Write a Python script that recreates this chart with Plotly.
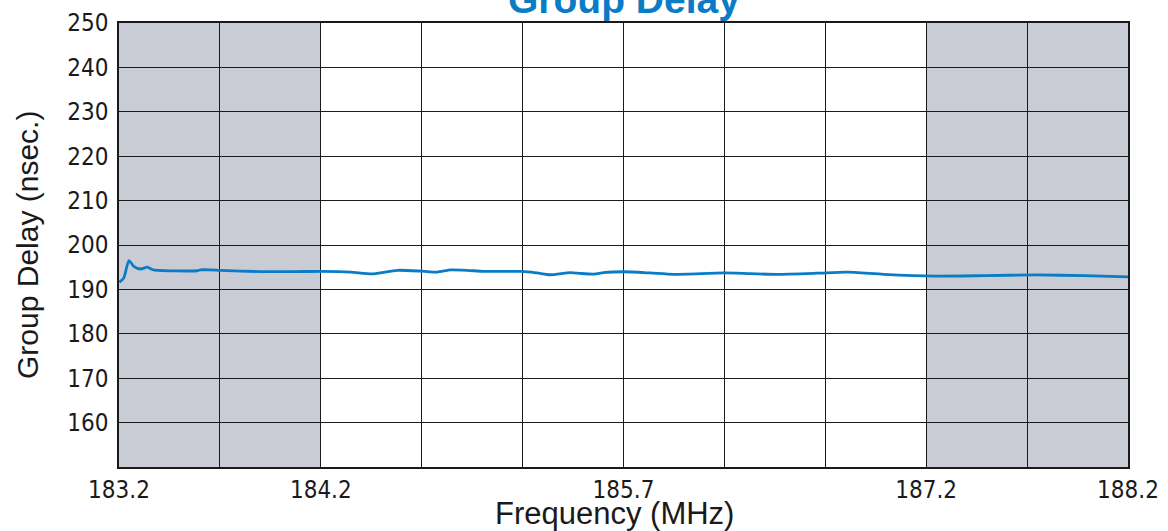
import plotly.graph_objects as go

# Data
freq_mhz = [183.202, 183.224, 183.249, 183.273, 183.307, 183.340, 183.371, 183.588,
            183.604, 183.653, 183.703, 183.901, 184.065, 184.199, 184.348, 184.455,
            184.579, 184.702, 184.777, 184.843, 184.925, 185.008, 185.198, 185.272,
            185.338, 185.437, 185.487, 185.553, 185.602, 185.701, 185.834, 185.949,
            186.197, 186.329, 186.460, 186.658, 186.807, 186.989, 187.247, 187.487,
            187.751, 187.982, 188.2]
delay_ns = [191.6, 192.6, 196.5, 195.2, 194.6, 195.0, 194.4, 194.2,
            194.4, 194.4, 194.3, 194.0, 194.0, 194.05, 193.9, 193.5,
            194.3, 194.1, 193.9, 194.4, 194.3, 194.05, 194.05, 193.7,
            193.3, 193.8, 193.6, 193.45, 193.8, 193.97, 193.7, 193.4,
            193.7, 193.55, 193.4, 193.65, 193.9, 193.4, 193.0, 193.1,
            193.25, 193.1, 192.8]

x_grid = [183.2, 183.7, 184.2, 184.7, 185.2, 185.7, 186.2, 186.7, 187.2, 187.7, 188.2]
x_labels = ["183.2", "", "184.2", "", "", "185.7", "", "", "187.2", "", "188.2"]
y_grid = [150, 160, 170, 180, 190, 200, 210, 220, 230, 240, 250]
y_labels = ["", "160", "170", "180", "190", "200", "210", "220", "230", "240", "250"]
shaded_bands = [(183.2, 184.2), (187.2, 188.2)]

title_text = "Group Delay"
x_title = "Frequency (MHz)"
y_title = "Group Delay (nsec.)"

BLUE = "#0a7cc6"
GRAY = "#c9ccd4"
TICK_FONT = dict(family="'Liberation Sans Narrow', 'DejaVu Sans Condensed', 'Roboto Condensed', 'Arial Narrow', 'Liberation Sans', sans-serif",
                 size=24, color="#1a1a1a")

fig = go.Figure()
fig.add_trace(go.Scatter(x=freq_mhz, y=delay_ns, mode="lines",
                         line=dict(color=BLUE, width=2.8, shape="spline", smoothing=0.6),
                         hoverinfo="skip", showlegend=False))

for x0, x1 in shaded_bands:
    fig.add_shape(type="rect", xref="x", yref="paper", x0=x0, x1=x1, y0=0, y1=1,
                  fillcolor=GRAY, line=dict(width=0), layer="below")

fig.update_xaxes(range=[x_grid[0], x_grid[-1]], tickmode="array", tickvals=x_grid,
                 ticktext=x_labels, showgrid=True, gridcolor="#1a1a1a", gridwidth=1.4,
                 showline=True, linecolor="#1a1a1a", linewidth=1.6, mirror=True,
                 ticks="", tickfont=TICK_FONT, zeroline=False, ticklabelstandoff=0)
fig.update_yaxes(range=[y_grid[0], y_grid[-1]], tickmode="array", tickvals=y_grid,
                 ticktext=y_labels, showgrid=True, gridcolor="#1a1a1a", gridwidth=1.4,
                 showline=True, linecolor="#1a1a1a", linewidth=1.6, mirror=True,
                 ticks="", tickfont=TICK_FONT, zeroline=False, ticklabelstandoff=4)

fig.add_annotation(text=title_text, xref="paper", yref="paper", x=0.5, y=1.0,
                   yshift=0, yanchor="bottom", xanchor="center", showarrow=False,
                   font=dict(family="Liberation Sans, Arial, sans-serif", size=39,
                             color=BLUE, weight="bold"))
fig.add_annotation(text=x_title, xref="paper", yref="paper", x=0.491, y=0,
                   yshift=-27, yanchor="top", xanchor="center", showarrow=False,
                   font=dict(family="Liberation Sans, Arial, sans-serif", size=31, color="#1a1a1a"))
fig.add_annotation(text=y_title, xref="paper", yref="paper", x=0, y=0.5,
                   xshift=-92, xanchor="center", yanchor="middle", textangle=-90,
                   showarrow=False,
                   font=dict(family="Liberation Sans, Arial, sans-serif", size=30, color="#1a1a1a"))

fig.update_layout(width=1168, height=531, plot_bgcolor="white", paper_bgcolor="white",
                  margin=dict(l=119, r=40, t=23, b=64, autoexpand=False))

fig.write_html("out.html", config={"displayModeBar": False},
               post_script="document.body.style.margin='0';document.body.style.overflow='hidden';")
